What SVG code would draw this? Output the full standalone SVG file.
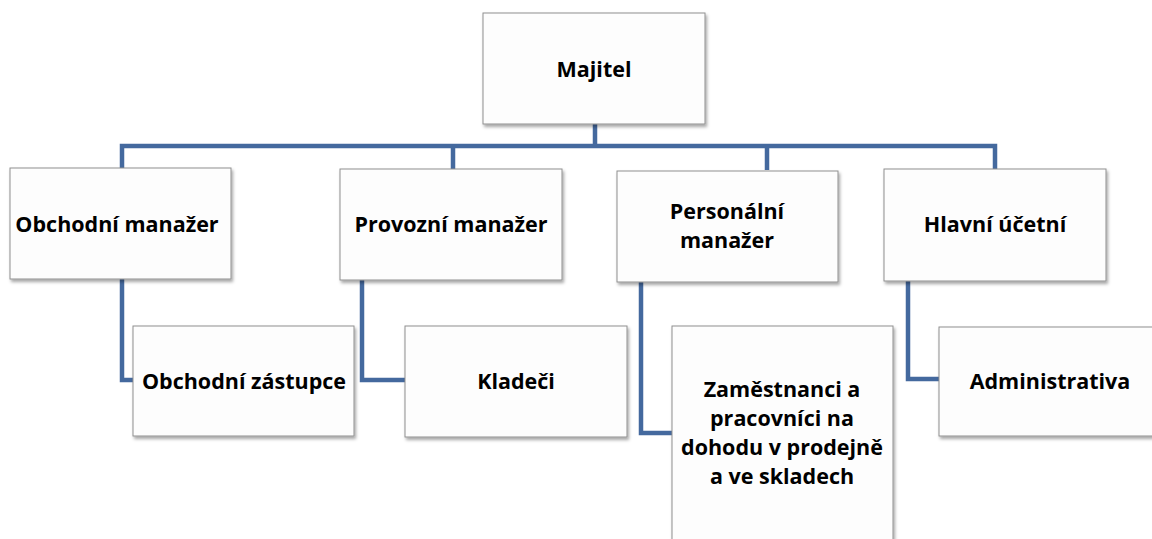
<svg xmlns="http://www.w3.org/2000/svg" width="1152" height="539" viewBox="0 0 1152 539">
<style>
.box{fill:#fdfdfd;stroke:#8f8f8f;stroke-width:1;filter:url(#sh)}
.t{font-family:"Open Sans","Liberation Sans",sans-serif;font-weight:bold;font-size:21.5px;fill:#000;text-anchor:middle}
.c{fill:none;stroke:#44699e;stroke-width:4.5}
</style>
<defs>
<filter id="sh" x="-10%" y="-10%" width="125%" height="130%">
<feDropShadow dx="1.5" dy="2.5" stdDeviation="1.5" flood-color="#000" flood-opacity="0.35"/>
</filter>
</defs>
<rect width="1152" height="539" fill="#fff"/>
<g id="connectors">
<path class="c" d="M595 124V146M122 170V146H995V170M453 146V170M767 146V170"/>
<path class="c" d="M122 279V380H134"/>
<path class="c" d="M362 280V380H406"/>
<path class="c" d="M641 282V433H673"/>
<path class="c" d="M908 281V379H940"/>
</g>
<g id="n-majitel"><rect class="box" x="483" y="13" width="222" height="111"/><text class="t" x="594" y="77">Majitel</text></g>
<g id="n-obchodni-manazer"><rect class="box" x="10" y="168" width="221" height="111"/><text class="t" x="117" y="232">Obchodní manažer</text></g>
<g id="n-provozni-manazer"><rect class="box" x="340" y="169" width="222" height="111"/><text class="t" x="451" y="232">Provozní manažer</text></g>
<g id="n-personalni-manazer"><rect class="box" x="617" y="171" width="221" height="111"/><text class="t" x="727" y="219">Personální</text><text class="t" x="727" y="248">manažer</text></g>
<g id="n-hlavni-ucetni"><rect class="box" x="884" y="169" width="222" height="112"/><text class="t" x="995" y="232">Hlavní účetní</text></g>
<g id="n-obchodni-zastupce"><rect class="box" x="133" y="326" width="221" height="110"/><text class="t" x="244" y="389">Obchodní zástupce</text></g>
<g id="n-kladeci"><rect class="box" x="405" y="326" width="222" height="111"/><text class="t" x="516" y="389">Kladeči</text></g>
<g id="n-zamestnanci"><rect class="box" x="672" y="326" width="221" height="230"/><text class="t" x="782" y="397">Zaměstnanci a</text><text class="t" x="782" y="426">pracovníci na</text><text class="t" x="782" y="455">dohodu v prodejně</text><text class="t" x="782" y="484">a ve skladech</text></g>
<g id="n-administrativa"><rect class="box" x="939" y="327" width="222" height="109"/><text class="t" x="1050" y="389">Administrativa</text></g>
</svg>
